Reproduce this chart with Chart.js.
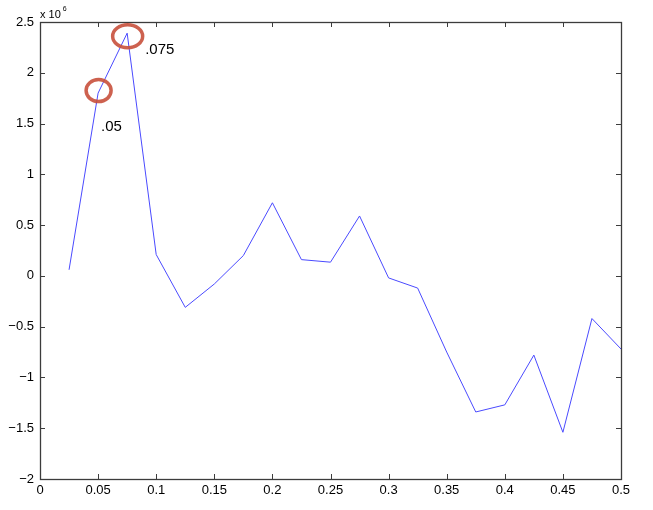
<!DOCTYPE html>
<html>
<head>
<meta charset="utf-8">
<script src="https://cdn.jsdelivr.net/npm/chart.js"></script>
<style>
  html, body { margin: 0; padding: 0; background: #fff; }
  #wrap { width: 653px; height: 510px; }
</style>
</head>
<body>
<div id="wrap"><canvas id="plot"></canvas></div>
<script>
// data (y in units of 10^6)
const xValues = [0.025, 0.05, 0.075, 0.1, 0.125, 0.15, 0.175, 0.2, 0.225, 0.25,
                 0.275, 0.3, 0.325, 0.35, 0.375, 0.4, 0.425, 0.45, 0.475, 0.5];
const yValues = [0.06, 1.8, 2.39, 0.21, -0.31, -0.08, 0.2, 0.72, 0.16, 0.135,
                 0.59, -0.02, -0.12, -0.75, -1.34, -1.27, -0.78, -1.54, -0.42, -0.72];
const xTicks = [0, 0.05, 0.1, 0.15, 0.2, 0.25, 0.3, 0.35, 0.4, 0.45, 0.5];
const yTicks = [-2, -1.5, -1, -0.5, 0, 0.5, 1, 1.5, 2, 2.5];
const markedPoints = [1, 2];
const markedLabels = [".05", ".075"];

const FONT = "Liberation Sans";

function fmt(v) {
  let s = String(Number(v.toFixed(3)));
  return s.replace("-", "\u2212");
}

// box + inward ticks on all four sides, MATLAB style
const boxPlugin = {
  id: 'matlabBox',
  afterDraw: function(chart) {
    var ctx = chart.ctx;
    var a = chart.chartArea;
    var xs = chart.scales.x, ys = chart.scales.y;
    var len = 5;
    ctx.save();
    ctx.strokeStyle = "#3c3c3c";
    ctx.lineWidth = 1;
    ctx.beginPath();
    xTicks.forEach(function(t) {
      var px = Math.round(xs.getPixelForValue(t)) + 0.5;
      ctx.moveTo(px, a.bottom); ctx.lineTo(px, a.bottom - len);
      ctx.moveTo(px, a.top); ctx.lineTo(px, a.top + len);
    });
    yTicks.forEach(function(t) {
      var py = Math.round(ys.getPixelForValue(t)) + 0.5;
      ctx.moveTo(a.left, py); ctx.lineTo(a.left + len, py);
      ctx.moveTo(a.right, py); ctx.lineTo(a.right - len, py);
    });
    ctx.stroke();
    ctx.lineWidth = 1.3;
    ctx.strokeRect(Math.round(a.left) + 0.5, Math.round(a.top) + 0.5,
                   Math.round(a.right - a.left), Math.round(a.bottom - a.top));

    // exponent label
    ctx.fillStyle = "#000";
    ctx.textBaseline = "alphabetic";
    ctx.textAlign = "left";
    ctx.font = "11px '" + FONT + "'";
    ctx.fillText("x 10", a.left, a.top - 4);
    var w = ctx.measureText("x 10").width;
    ctx.font = "7px '" + FONT + "'";
    ctx.fillText("6", a.left + w + 2, a.top - 11);

    // red rings around marked points with their labels
    var meta = chart.getDatasetMeta(0);
    ctx.strokeStyle = "rgba(200, 80, 60, 0.9)";
    ctx.lineWidth = 3.5;
    ctx.font = "15px '" + FONT + "'";
    markedPoints.forEach(function(idx, k) {
      var p = meta.data[idx];
      var rx = k === 0 ? 12.5 : 15;
      var ry = k === 0 ? 11 : 11.5;
      var cy = k === 0 ? p.y - 2.5 : p.y + 3;
      ctx.beginPath();
      ctx.ellipse(p.x + 0.5, cy, rx, ry, 0, 0, Math.PI * 2);
      ctx.stroke();
      ctx.fillStyle = "#000";
      if (k === 0) ctx.fillText(markedLabels[k], p.x + 3, p.y + 38);
      else ctx.fillText(markedLabels[k], p.x + 18, p.y + 21);
    });
    ctx.restore();
  }
};

new Chart("plot", {
  type: "scatter",
  data: {
    datasets: [{
      data: xValues.map(function(x, i) { return { x: x, y: yValues[i] }; }),
      showLine: true,
      borderColor: "#4a4aff",
      borderWidth: 1,
      pointRadius: 0,
      fill: false,
      tension: 0
    }]
  },
  options: {
    responsive: true,
    maintainAspectRatio: false,
    animation: false,
    layout: { padding: { top: 22, right: 32, left: 0, bottom: 0 } },
    plugins: {
      legend: { display: false },
      tooltip: { enabled: false }
    },
    scales: {
      x: {
        type: "linear",
        min: 0, max: 0.5,
        afterFit: function(s) { s.height = 31; },
        afterBuildTicks: function(s) { s.ticks = xTicks.map(function(v) { return { value: v }; }); },
        grid: { display: false, drawTicks: false },
        border: { display: false },
        ticks: {
          padding: 4,
          color: "#000",
          font: { family: FONT, size: 13 },
          maxRotation: 0,
          autoSkip: false,
          callback: function(v) { return fmt(v); }
        }
      },
      y: {
        min: -2, max: 2.5,
        afterFit: function(s) { s.width = 40; },
        afterBuildTicks: function(s) { s.ticks = yTicks.map(function(v) { return { value: v }; }); },
        grid: { display: false, drawTicks: false },
        border: { display: false },
        ticks: {
          padding: 6,
          color: "#000",
          font: { family: FONT, size: 13 },
          autoSkip: false,
          callback: function(v) { return fmt(v); }
        }
      }
    }
  },
  plugins: [boxPlugin]
});
</script>
</body>
</html>
